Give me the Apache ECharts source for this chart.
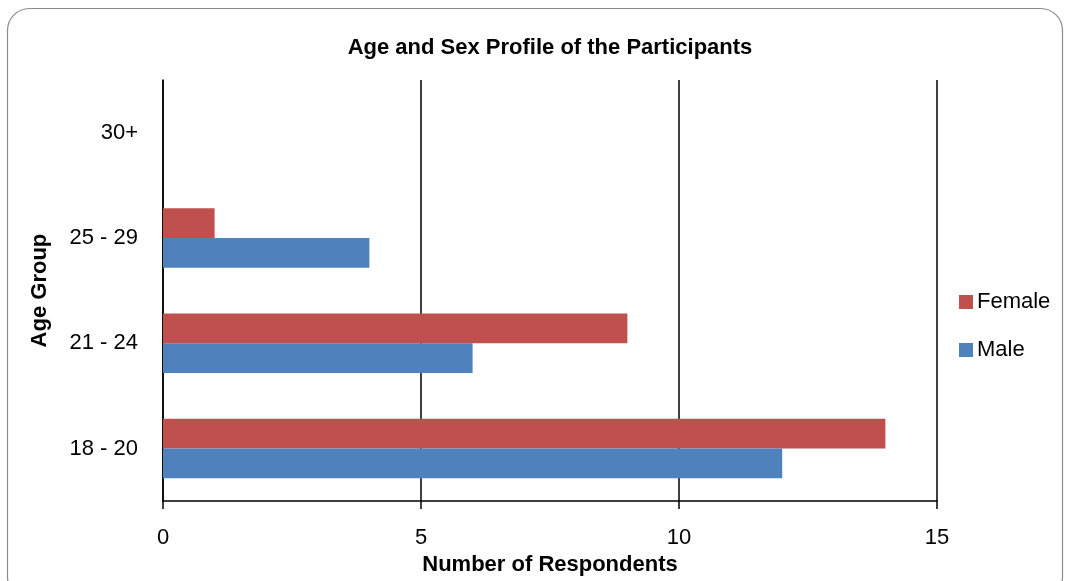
<!DOCTYPE html>
<html>
<head>
<meta charset="utf-8">
<script src="https://cdn.jsdelivr.net/npm/echarts@6/dist/echarts.min.js"></script>
<style>
  html, body { margin: 0; padding: 0; background: #fff; }
  #chart { width: 1070px; height: 581px; }
</style>
</head>
<body>
<div id="chart"></div>
<script>
// Age groups, bottom to top
const ageGroups = ['18 - 20', '21 - 24', '25 - 29', '30+'];
const femaleCounts = [14, 9, 1, 0];
const maleCounts = [12, 6, 4, 0];
const xTicks = { min: 0, max: 15, interval: 5 };

const FONT = '"Liberation Sans", "Open Sans", sans-serif';
const chart = echarts.init(document.getElementById('chart'));

chart.setOption({
  animation: false,
  backgroundColor: '#fff',
  graphic: [{
    type: 'rect',
    shape: { x: 7.5, y: 8.5, width: 1055, height: 590, r: 22 },
    style: { fill: 'none', stroke: '#8c8c8c', lineWidth: 1.2 },
    silent: true
  }],
  title: {
    text: 'Age and Sex Profile of the Participants',
    left: 545, top: 32, textAlign: 'center',
    textStyle: { fontFamily: FONT, fontSize: 22, fontWeight: 'bold', color: '#000' }
  },
  legend: {
    orient: 'vertical',
    left: 954, top: 286,
    itemWidth: 14, itemHeight: 14, itemGap: 26,
    icon: 'rect',
    data: ['Female', 'Male'],
    textStyle: { fontFamily: FONT, fontSize: 22, color: '#000', padding: [0, 0, 0, -1] }
  },
  grid: { left: 163, right: 133, top: 80, bottom: 76, containLabel: false },
  xAxis: {
    type: 'value',
    min: xTicks.min, max: xTicks.max, interval: xTicks.interval,
    name: 'Number of Respondents',
    nameLocation: 'middle', nameGap: 50,
    nameTextStyle: { fontFamily: FONT, fontSize: 22, fontWeight: 'bold', color: '#000' },
    axisLine: { show: true, lineStyle: { color: '#000', width: 1.5 } },
    axisTick: { show: true, length: 8, inside: false, lineStyle: { color: '#000', width: 1.5 } },
    axisLabel: { fontFamily: FONT, fontSize: 22, color: '#000', margin: 26 },
    splitLine: { show: true, lineStyle: { color: '#000', width: 1.5 } }
  },
  yAxis: {
    type: 'category',
    data: ageGroups,
    name: 'Age Group',
    nameLocation: 'middle', nameGap: 112, nameRotate: 90,
    nameTextStyle: { fontFamily: FONT, fontSize: 22, fontWeight: 'bold', color: '#000' },
    axisLine: { show: true, lineStyle: { color: '#000', width: 1.5 } },
    axisTick: { show: false },
    axisLabel: { fontFamily: FONT, fontSize: 22, color: '#000', margin: 25 },
    splitLine: { show: false }
  },
  series: [
    {
      name: 'Female', type: 'bar', data: femaleCounts,
      itemStyle: { color: '#C0504D' },
      barGap: '0%', barCategoryGap: '43.5%'
    },
    {
      name: 'Male', type: 'bar', data: maleCounts,
      itemStyle: { color: '#4F81BD' },
      barGap: '0%', barCategoryGap: '43.5%'
    }
  ]
});
</script>
</body>
</html>
